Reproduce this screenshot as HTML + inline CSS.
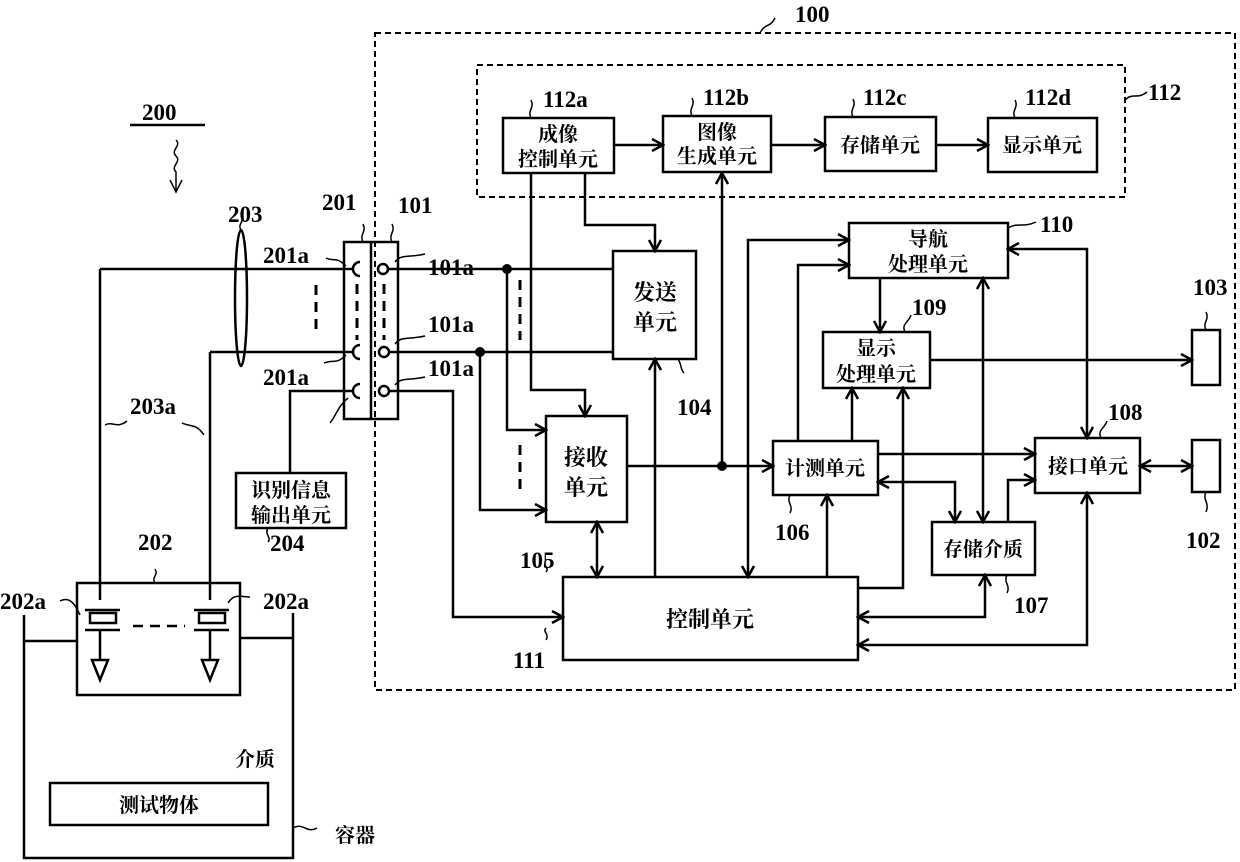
<!DOCTYPE html>
<html><head><meta charset="utf-8"><style>
html,body{margin:0;padding:0;background:#fff;}
svg{display:block;}
text{font-family:"Liberation Serif","Noto Serif CJK SC",serif;font-weight:bold;fill:#000;}
.c{font-family:"Liberation Sans","Noto Sans CJK SC",sans-serif;font-size:20px;font-weight:bold;text-anchor:middle;}
.n{font-size:23px;}
</style></head><body>
<svg width="1240" height="862" viewBox="0 0 1240 862" xmlns="http://www.w3.org/2000/svg">
<defs>
<marker id="a" markerWidth="14" markerHeight="14" refX="12" refY="7" orient="auto-start-reverse" markerUnits="userSpaceOnUse">
<path d="M1,1 L12,7 L1,13" fill="none" stroke="#000" stroke-width="2.5"/>
</marker>
</defs>
<g fill="none" stroke="#000" stroke-width="2.5">
<rect x="375" y="33" width="860" height="657" stroke-dasharray="6,4" stroke-width="2"/>
<rect x="477" y="65" width="648" height="132" stroke-dasharray="6,4" stroke-width="2"/>
<rect x="503" y="118" width="111" height="55"/>
<rect x="663" y="116" width="108" height="56"/>
<rect x="825" y="117" width="111" height="54"/>
<rect x="988" y="118" width="109" height="54"/>
<path d="M614,145 H663" marker-end="url(#a)"/>
<path d="M771,145 H825" marker-end="url(#a)"/>
<path d="M936,145 H988" marker-end="url(#a)"/>
<rect x="613" y="251" width="83" height="108"/>
<rect x="546" y="416" width="81" height="106"/>
<rect x="563" y="577" width="295" height="83"/>
<rect x="849" y="223" width="159" height="55"/>
<rect x="823" y="332" width="107" height="56"/>
<rect x="773" y="441" width="105" height="54"/>
<rect x="1035" y="438" width="105" height="55"/>
<rect x="932" y="522" width="103" height="53"/>
<rect x="1192" y="330" width="28" height="55"/>
<rect x="1192" y="440" width="28" height="52"/>
<rect x="344" y="242" width="54" height="177"/>
<line x1="371" y1="242" x2="371" y2="419"/>
<path d="M360,262 a7,7 0 1 0 0,14"/>
<path d="M360,345 a7,7 0 1 0 0,14"/>
<path d="M360,384 a7,7 0 1 0 0,14"/>
<circle cx="383" cy="269" r="5"/>
<circle cx="384" cy="352" r="5"/>
<circle cx="384" cy="391" r="5"/>
<path d="M357,284 V340 M384,284 V340 M316,285 V335 M520,280 V340 M520,445 V495" stroke-dasharray="10,7" stroke-width="3"/>
<path d="M100,269 H353 M100,269 V600"/>
<path d="M210,352 H353 M210,352 V600"/>
<path d="M353,391 H290 V473"/>
<rect x="236" y="473" width="110" height="55"/>
<ellipse cx="241" cy="298" rx="6" ry="68"/>
<path d="M388,269 H613"/>
<path d="M389,352 H613"/>
<path d="M389,391 H453 V617 H563" marker-end="url(#a)"/>
<path d="M507,269 V430 H546" marker-end="url(#a)"/>
<path d="M480,352 V510 H546" marker-end="url(#a)"/>
<path d="M531,173 V390 H585 V416" marker-end="url(#a)"/>
<path d="M585,173 V225 H655 V251" marker-end="url(#a)"/>
<path d="M655,577 V359" marker-end="url(#a)"/>
<path d="M597,522 V577" marker-start="url(#a)" marker-end="url(#a)"/>
<path d="M627,466 H773" marker-end="url(#a)"/>
<path d="M722,466 V173" marker-end="url(#a)"/>
<path d="M849,240 H748 V577" marker-start="url(#a)" marker-end="url(#a)"/>
<path d="M798,441 V265 H849" marker-end="url(#a)"/>
<path d="M852,441 V388" marker-end="url(#a)"/>
<path d="M858,588 H903 V388" marker-end="url(#a)"/>
<path d="M827,577 V495" marker-end="url(#a)"/>
<path d="M880,278 V332" marker-end="url(#a)"/>
<path d="M983,278 V522" marker-start="url(#a)" marker-end="url(#a)"/>
<path d="M1008,249 H1087 V438" marker-start="url(#a)" marker-end="url(#a)"/>
<path d="M930,360 H1192" marker-end="url(#a)"/>
<path d="M878,454 H1035" marker-end="url(#a)"/>
<path d="M878,482 H955 V522" marker-start="url(#a)" marker-end="url(#a)"/>
<path d="M1008,522 V480 H1035" marker-end="url(#a)"/>
<path d="M1140,466 H1192" marker-start="url(#a)" marker-end="url(#a)"/>
<path d="M858,617 H985 V575" marker-start="url(#a)" marker-end="url(#a)"/>
<path d="M1087,493 V645 H858" marker-start="url(#a)" marker-end="url(#a)"/>
<path d="M24,615 V858 H293 V613"/>
<path d="M24,641 H77 M240,638 H293"/>
<rect x="77" y="583" width="163" height="112"/>
<rect x="50" y="783" width="218" height="42"/>
<rect x="90" y="613" width="26" height="10"/>
<rect x="199" y="613" width="26" height="10"/>
<path d="M85,610 H120 M85,630 H120 M194,610 H229 M194,630 H229"/>
<path d="M100,630 V660 M210,630 V660"/>
<path d="M92,660 H108 L100,680 Z M202,660 H218 L210,680 Z"/>
<path d="M133,626 H185" stroke-dasharray="10,7"/>
<path d="M130,125 H205"/>
<g stroke-width="1.5">
<path d="M760,33 c5,-10 10,-5 15,-15"/>
<path d="M1125,100 c8,-8 12,0 22,-8"/>
<path d="M531,118 c-4,-8 4,-10 0,-18"/>
<path d="M692,116 c-4,-8 4,-10 0,-18"/>
<path d="M853,117 c-4,-8 4,-10 0,-18"/>
<path d="M1015,118 c-4,-8 4,-10 0,-18"/>
<path d="M1008,228 c10,-6 15,0 28,-6"/>
<path d="M905,332 c-4,-8 4,-10 6,-17"/>
<path d="M1101,438 c-4,-8 4,-10 6,-17"/>
<path d="M1206,330 c-4,-8 4,-10 0,-18"/>
<path d="M1206,492 c-4,8 4,10 0,20"/>
<path d="M790,495 c-4,8 4,10 0,18"/>
<path d="M1007,575 c-4,8 4,10 0,18"/>
<path d="M678,359 c4,6 2,10 6,14"/>
<path d="M546,560 c-4,6 4,8 0,12"/>
<path d="M546,640 c4,-6 -4,-8 0,-12"/>
<path d="M363,242 c-4,-8 4,-10 0,-18"/>
<path d="M392,242 c-4,-8 4,-10 0,-18"/>
<path d="M346,266 c-10,-10 -12,-4 -20,-8"/>
<path d="M346,355 c-10,10 -12,4 -22,8"/>
<path d="M348,398 c-10,8 -12,18 -18,25"/>
<path d="M395,262 c6,-8 12,-4 30,-8"/>
<path d="M395,344 c6,-8 12,-4 30,-8"/>
<path d="M395,385 c6,-8 12,-4 30,-8"/>
<path d="M241,230 c-4,-6 4,-8 0,-14"/>
<path d="M268,528 c-4,6 4,10 0,14"/>
<path d="M155,583 c-4,-6 4,-8 0,-14"/>
<path d="M60,601 c8,-4 14,0 20,14"/>
<path d="M228,603 c6,-10 14,-6 22,-6"/>
<path d="M105,425 c8,-4 12,4 22,-4"/>
<path d="M182,423 c8,4 14,0 22,12"/>
<path d="M293,828 c10,-6 14,6 24,0"/>
<path d="M176,140 c6,6 -6,10 0,16 c6,6 -6,10 0,16 V192"/>
<path d="M170,180 L176,192 L182,180"/>
</g>
</g>
<g fill="#000">
<circle cx="507" cy="269" r="5"/>
<circle cx="480" cy="352" r="5"/>
<circle cx="722" cy="466" r="5"/>
</g>
<g class="c">
<text x="558" y="141">成像</text><text x="558" y="166">控制单元</text>
<text x="717" y="139">图像</text><text x="717" y="163">生成单元</text>
<text x="880" y="152">存储单元</text>
<text x="1042" y="152">显示单元</text>
<text x="655" y="300" font-size="22">发送</text><text x="655" y="330" font-size="22">单元</text>
<text x="586" y="465" font-size="22">接收</text><text x="586" y="495" font-size="22">单元</text>
<text x="710" y="627" font-size="22">控制单元</text>
<text x="928" y="246">导航</text><text x="928" y="271">处理单元</text>
<text x="876" y="355">显示</text><text x="876" y="381">处理单元</text>
<text x="825" y="475">计测单元</text>
<text x="1088" y="473">接口单元</text>
<text x="983" y="556">存储介质</text>
<text x="291" y="497">识别信息</text><text x="291" y="522">输出单元</text>
<text x="159" y="812">测试物体</text>
<text x="255" y="766">介质</text>
<text x="355" y="842">容器</text>
</g>
<g class="n">
<text x="795" y="22">100</text>
<text x="1148" y="100">112</text>
<text x="543" y="107">112a</text>
<text x="703" y="105">112b</text>
<text x="863" y="105">112c</text>
<text x="1025" y="105">112d</text>
<text x="1040" y="232">110</text>
<text x="912" y="315">109</text>
<text x="1108" y="420">108</text>
<text x="1193" y="295">103</text>
<text x="1186" y="548">102</text>
<text x="775" y="540">106</text>
<text x="1014" y="613">107</text>
<text x="677" y="415">104</text>
<text x="520" y="568">105</text>
<text x="513" y="668">111</text>
<text x="322" y="210">201</text>
<text x="398" y="213">101</text>
<text x="428" y="275">101a</text>
<text x="428" y="332">101a</text>
<text x="428" y="376">101a</text>
<text x="263" y="263">201a</text>
<text x="263" y="385">201a</text>
<text x="228" y="222">203</text>
<text x="130" y="414">203a</text>
<text x="270" y="551">204</text>
<text x="138" y="550">202</text>
<text x="0" y="609">202a</text>
<text x="263" y="609">202a</text>
<text x="142" y="120">200</text>
</g>
</svg>
</body></html>
